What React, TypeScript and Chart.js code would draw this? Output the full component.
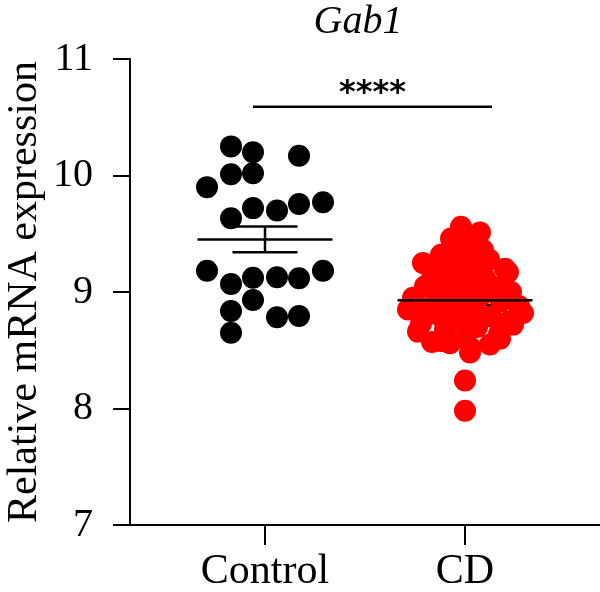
import { useEffect, useRef } from "react";
import { Chart, registerables } from "chart.js";

Chart.register(...registerables);

// Groups on the x axis
const groups = ["Control", "CD"];

// Relative mRNA expression per sample
const controlValues = [
  10.25, 10.2, 10.17, 10.01, 10.02, 9.9, 9.72, 9.7, 9.755, 9.77, 9.633,
  9.183, 9.069, 9.123, 9.126, 9.118, 9.183, 8.931, 8.837, 8.783, 8.794, 8.651,
];
// Horizontal spread of each dot within its group (category units)
const controlSpread = [
  -0.17, -0.06, 0.17, -0.17, -0.06, -0.29, -0.06, 0.06, 0.17, 0.29, -0.17,
  -0.29, -0.17, -0.06, 0.06, 0.17, 0.29, -0.06, -0.17, 0.06, 0.17, -0.17,
];

const cdValues = [
  9.56, 9.51, 9.46, 9.42, 9.38, 9.36, 9.32, 9.3, 9.28, 9.25, 9.24, 9.22, 9.2,
  9.17, 9.17, 9.14, 9.12, 9.1, 9.07, 9.05, 9.04, 9.02, 9.0, 8.98, 8.97, 8.95,
  8.94, 8.92, 8.9, 8.88, 8.86, 8.85, 8.84, 8.82, 8.8, 8.79, 8.77, 8.75, 8.73,
  8.72, 8.7, 8.68, 8.66, 8.64, 8.62, 8.6, 8.58, 8.57, 8.56, 8.55, 8.52, 8.48,
  8.24, 7.98,
];
const cdSpread = [
  -0.02, 0.075, -0.07, 0.03, -0.04, 0.09, -0.12, 0.0, 0.12, -0.21, -0.07,
  0.06, 0.2, -0.165, 0.215, -0.02, 0.1, -0.1, 0.04, -0.2, 0.16, -0.06, 0.23,
  -0.14, 0.08, -0.26, 0.0, 0.18, -0.08, 0.27, -0.2, -0.285, 0.05, 0.29, -0.13,
  0.13, -0.03, 0.22, -0.22, 0.24, 0.06, -0.1, -0.235, 0.17, 0.0, 0.175, -0.12,
  -0.165, -0.075, 0.125, 0.03, 0.025, 0.0, 0.0,
];

// Axis range and ticks
const yMin = 7;
const yMax = 11;
const yStep = 1;

// Texts
const chartTitle = "Gab1";
const yAxisTitle = "Relative mRNA expression";
const significance = "****";

// Significance bar: from / to (x), height (y)
const sigFrom = 0.94;
const sigTo = 2.135;
const sigLevel = 10.59;

const FONT = "'Liberation Serif', 'Times New Roman', serif";
const MEAN_HALF = 0.3375;
const CAP_HALF = 0.1625;

function meanSem(values: number[]) {
  const n = values.length;
  const mean = values.reduce((a, b) => a + b, 0) / n;
  const variance = values.reduce((a, b) => a + (b - mean) ** 2, 0) / (n - 1);
  return { mean, sem: Math.sqrt(variance / n) };
}

function segment(points: { x: number; y: number }[], order: number) {
  return {
    data: points,
    showLine: true,
    borderColor: "#000",
    borderWidth: 2.5,
    pointRadius: 0,
    pointHoverRadius: 0,
    order,
  };
}

// Mean line drawn above the dots, SEM bar beneath them
function summarySegments(center: number, values: number[]) {
  const { mean, sem } = meanSem(values);
  return [
    segment([{ x: center - MEAN_HALF, y: mean }, { x: center + MEAN_HALF, y: mean }], 0),
    segment([{ x: center, y: mean - sem }, { x: center, y: mean + sem }], 3),
    segment([{ x: center - CAP_HALF, y: mean + sem }, { x: center + CAP_HALF, y: mean + sem }], 3),
    segment([{ x: center - CAP_HALF, y: mean - sem }, { x: center + CAP_HALF, y: mean - sem }], 3),
  ];
}

const textPlugin = {
  id: "chartTexts",
  afterDraw(chart: any) {
    const { ctx, chartArea, scales } = chart;
    ctx.save();
    ctx.fillStyle = "#000";
    ctx.textAlign = "center";
    ctx.textBaseline = "alphabetic";
    ctx.font = `italic 40px ${FONT}`;
    ctx.fillText(chartTitle, (chartArea.left + chartArea.right) / 2 - 7, 33);
    ctx.font = `bold 32px 'DejaVu Sans', sans-serif`;
    const sx = scales.x.getPixelForValue((sigFrom + sigTo) / 2);
    const sy = scales.y.getPixelForValue(sigLevel);
    ctx.fillText(significance, sx, sy - 5);
    ctx.restore();
  },
};

export default function App() {
  const canvasRef = useRef<HTMLCanvasElement | null>(null);

  useEffect(() => {
    document.body.style.margin = "0";
    document.body.style.overflow = "hidden";
    const canvas = canvasRef.current;
    if (!canvas) return;

    const chart = new Chart(canvas, {
      type: "scatter",
      data: {
        datasets: [
          {
            data: controlValues.map((v, i) => ({ x: 1 + controlSpread[i], y: v })),
            backgroundColor: "#000",
            borderWidth: 0,
            pointRadius: 11,
            pointHoverRadius: 11,
            order: 2,
          },
          {
            data: cdValues.map((v, i) => ({ x: 2 + cdSpread[i], y: v })),
            backgroundColor: "#ff0000",
            borderWidth: 0,
            pointRadius: 11,
            pointHoverRadius: 11,
            order: 2,
          },
          ...summarySegments(1, controlValues),
          ...summarySegments(2, cdValues),
          segment([{ x: sigFrom, y: sigLevel }, { x: sigTo, y: sigLevel }], 0),
        ] as any,
      },
      options: {
        animation: false,
        responsive: false,
        maintainAspectRatio: false,
        layout: { padding: { top: 59, right: 0, left: 0, bottom: 0 }, autoPadding: false },
        plugins: {
          legend: { display: false },
          tooltip: { enabled: false },
          title: { display: false },
        },
        scales: {
          x: {
            type: "linear",
            min: 0.325,
            max: 2.675,
            afterBuildTicks: (scale: any) => {
              scale.ticks = groups.map((_, i) => ({ value: i + 1 }));
            },
            afterFit: (scale: any) => {
              scale.height = 67;
            },
            ticks: {
              callback: (v: any) => groups[Number(v) - 1] ?? "",
              color: "#000",
              font: { family: FONT, size: 42 },
              padding: 2,
              maxRotation: 0,
            },
            grid: {
              display: true,
              drawOnChartArea: false,
              drawTicks: true,
              tickLength: 20,
              color: "#000",
              lineWidth: 2,
            },
            border: { display: true, color: "#000", width: 2 },
          },
          y: {
            type: "linear",
            min: yMin,
            max: yMax,
            afterFit: (scale: any) => {
              scale.width = 130;
            },
            ticks: {
              stepSize: yStep,
              color: "#000",
              font: { family: FONT, size: 40 },
              padding: 20,
            },
            grid: {
              display: true,
              drawOnChartArea: false,
              drawTicks: true,
              tickLength: 17,
              color: "#000",
              lineWidth: 2,
            },
            border: { display: true, color: "#000", width: 2 },
            title: {
              display: true,
              text: yAxisTitle,
              color: "#000",
              font: { family: FONT, size: 42 },
              padding: { top: 0, bottom: 0 },
            },
          },
        },
      },
      plugins: [textPlugin],
    });

    return () => chart.destroy();
  }, []);

  return (
    <div style={{ width: 600, height: 592 }}>
      <canvas ref={canvasRef} width={600} height={592} style={{ display: "block" }} />
    </div>
  );
}
